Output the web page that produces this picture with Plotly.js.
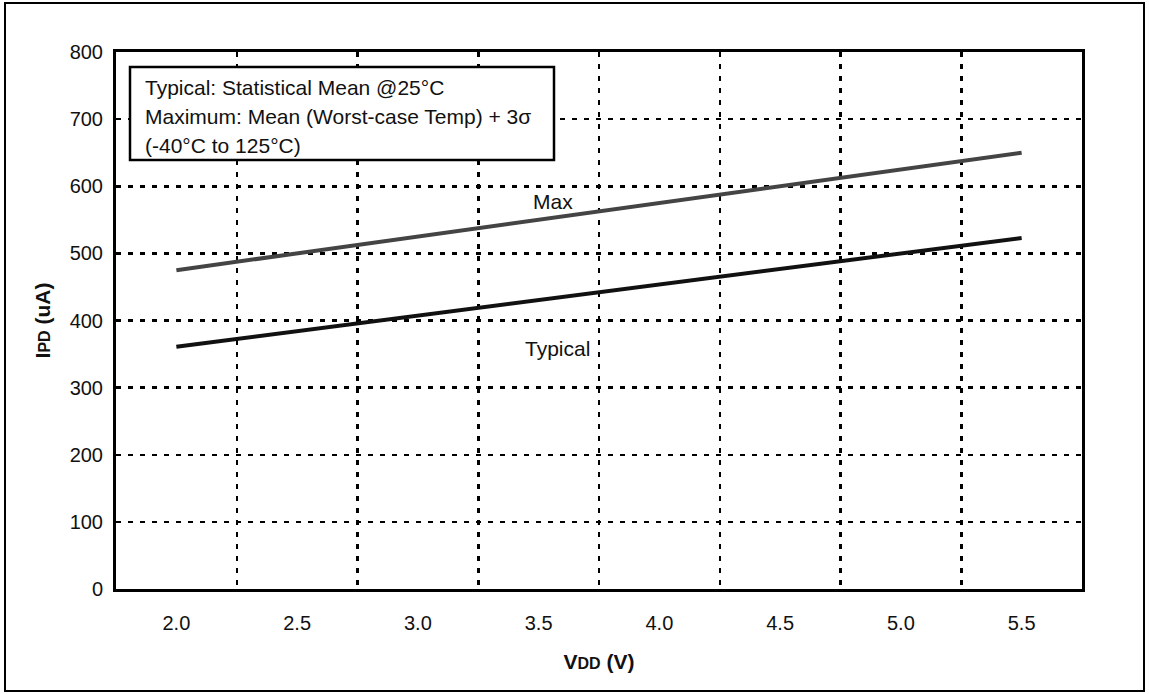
<!DOCTYPE html>
<html><head><meta charset="utf-8">
<script src="https://cdn.plot.ly/plotly-3.0.1.min.js"></script>
<style>html,body{margin:0;padding:0;background:#fff}#chart{width:1149px;height:694px}</style>
</head><body><div id="chart"></div>
<script>
// Data
const vdd = [2.0, 2.5, 3.0, 3.5, 4.0, 4.5, 5.0, 5.5];
const ipdMax = [475, 500, 525, 550, 575, 600, 625, 650];
const ipdTypical = [361, 384, 407, 430, 453, 476, 500, 523];
const xTickVals = [2.0, 2.5, 3.0, 3.5, 4.0, 4.5, 5.0, 5.5];
const xTickText = ['2.0', '2.5', '3.0', '3.5', '4.0', '4.5', '5.0', '5.5'];
const yTickVals = [0, 100, 200, 300, 400, 500, 600, 700, 800];
const seriesNames = ['Max', 'Typical'];
const labelPos = [[3.56, 578], [3.58, 359]];
const noteLines = ['Typical: Statistical Mean @25°C', 'Maximum: Mean (Worst-case Temp) + 3σ', '(-40°C to 125°C)'];

const FONT = 'Liberation Sans, Arial, Helvetica, sans-serif';
const gridDash = '5px,7px';

const traces = [
  {x: vdd, y: ipdMax, name: seriesNames[0], mode: 'lines', line: {color: '#444444', width: 4}, hoverinfo: 'x+y+name'},
  {x: vdd, y: ipdTypical, name: seriesNames[1], mode: 'lines', line: {color: '#111111', width: 4}, hoverinfo: 'x+y+name'}
];

const plotL = 116, plotR = 1082, plotT = 52, plotB = 589, W = 1149, H = 694;
const pw = plotR - plotL, ph = plotB - plotT;
const px = v => (v - plotL) / pw;
const py = v => (plotB - v) / ph;

const annotations = [];
seriesNames.forEach((n, i) => annotations.push({
  x: labelPos[i][0], y: labelPos[i][1], xref: 'x', yref: 'y', text: n, showarrow: false,
  font: {family: FONT, size: 21, color: '#111'}
}));
const noteY = [87, 116, 145];
noteLines.forEach((t, i) => annotations.push({
  x: px(143), y: py(noteY[i]), xref: 'paper', yref: 'paper', xanchor: 'left', yanchor: 'middle',
  text: t, showarrow: false, font: {family: FONT, size: 21, color: '#111'}
}));

const shapes = [
  {type: 'rect', xref: 'paper', yref: 'paper', x0: px(130), x1: px(554), y0: py(160), y1: py(67),
   line: {color: '#000', width: 2.5}, fillcolor: '#fff', layer: 'above'},
  {type: 'rect', xref: 'paper', yref: 'paper', x0: px(5), x1: px(1144), y0: py(691), y1: py(3),
   line: {color: '#000', width: 2}, layer: 'below'}
];

const layout = {
  width: W, height: H,
  margin: {l: plotL, r: W - plotR, t: plotT, b: H - plotB, pad: 0},
  paper_bgcolor: '#fff', plot_bgcolor: '#fff',
  showlegend: false,
  font: {family: FONT, size: 20, color: '#111'},
  xaxis: {
    range: [1.75, 5.75], tickmode: 'array', tickvals: xTickVals, ticktext: xTickText,
    tickfont: {family: FONT, size: 20, color: '#111'},
    showgrid: false, zeroline: false, showline: true, mirror: true, linecolor: '#000', linewidth: 3,
    ticks: '', ticklabelstandoff: 14,
    minor: {tick0: 2.25, dtick: 0.5, showgrid: true, gridcolor: '#000', gridwidth: 2.5, griddash: gridDash, ticks: ''},
    title: {text: '<b>V<span style="font-size:16px">DD</span> (V)</b>', font: {family: FONT, size: 21, color: '#111'}, standoff: 22},
    automargin: false, fixedrange: true
  },
  yaxis: {
    range: [0, 800], tickmode: 'array', tickvals: yTickVals,
    tickfont: {family: FONT, size: 20, color: '#111'},
    showgrid: true, gridcolor: '#000', gridwidth: 2.5, griddash: gridDash,
    zeroline: false, showline: true, mirror: true, linecolor: '#000', linewidth: 3,
    ticks: '', ticklabelstandoff: 6,
    title: {text: '<b>I<span style="font-size:16px">PD</span> (uA)</b>', font: {family: FONT, size: 21, color: '#111'}, standoff: 14},
    automargin: false, fixedrange: true
  },
  annotations: annotations,
  shapes: shapes
};

Plotly.newPlot('chart', traces, layout, {displayModeBar: false, staticPlot: true});
</script>
</body></html>
